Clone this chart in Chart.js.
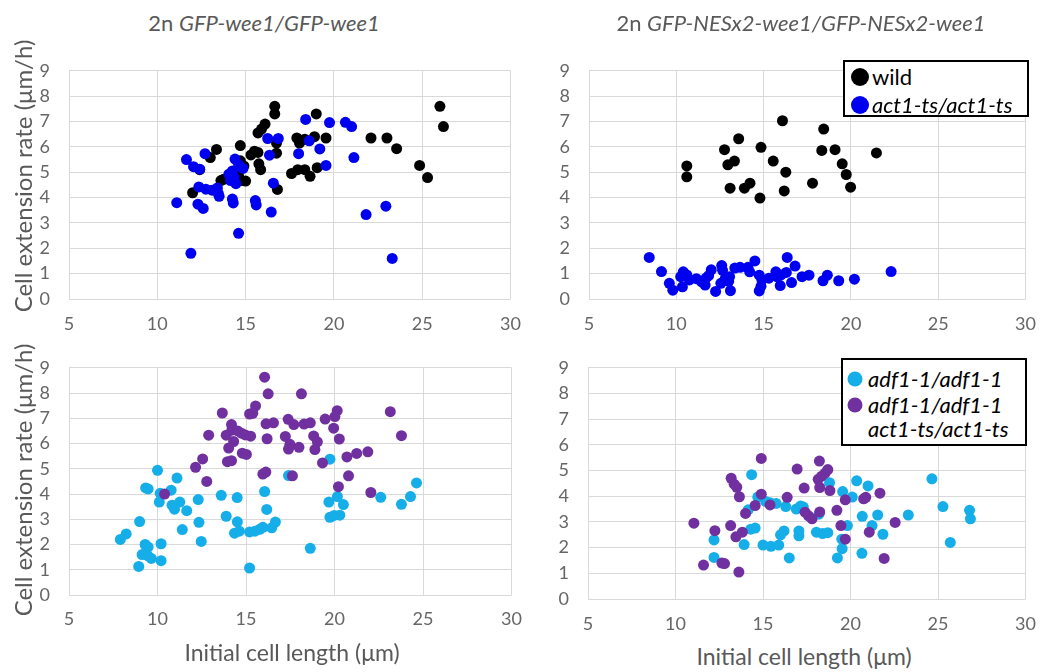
<!DOCTYPE html>
<html>
<head>
<meta charset="utf-8">
<script src="https://cdn.jsdelivr.net/npm/chart.js@4.4.0/dist/chart.umd.min.js"></script>
<style>
  body { margin: 0; background: #fff; }
  #wrap { position: relative; width: 1051px; height: 672px; overflow: hidden; font-family: Lato, sans-serif; color: #595959; }
  #wrap canvas { position: absolute; }
  .txt { position: absolute; white-space: nowrap; transform: translate(-50%, -50%); }
  .title { font-size: 22px; }
  .ytitle { font-size: 24px; transform: translate(-50%, -50%) rotate(-90deg); }
  .xtitle { font-size: 23px; }
  .legend { position: absolute; box-sizing: border-box; border: 2px solid #000; background: #fff; color: #000; font-size: 22px; }
  .row { position: absolute; left: 0; white-space: nowrap; transform: translateY(-50%); line-height: 1; }
  .dot { position: absolute; border-radius: 50%; transform: translate(-50%, -50%); }
</style>
</head>
<body>
<div id="wrap">
  <canvas id="tl" width="535" height="300" style="left:0px;top:41px"></canvas>
  <canvas id="tr" width="530" height="300" style="left:520px;top:41px"></canvas>
  <canvas id="bl" width="535" height="300" style="left:0px;top:338px"></canvas>
  <canvas id="br" width="531" height="300" style="left:519px;top:338px"></canvas>

  <div class="txt title" style="left:264px;top:22px">2n <i>GFP-wee1/GFP-wee1</i></div>
  <div class="txt title" style="left:801px;top:22px">2n <i>GFP-NESx2-wee1/GFP-NESx2-wee1</i></div>
  <div class="txt ytitle" style="left:22px;top:176px">Cell extension rate (μm/h)</div>
  <div class="txt ytitle" style="left:22px;top:480px">Cell extension rate (μm/h)</div>
  <div class="txt xtitle" style="left:292px;top:652px">Initial cell length (μm)</div>
  <div class="txt xtitle" style="left:804px;top:656px">Initial cell length (μm)</div>

  <div class="legend" style="left:843px;top:60px;width:186px;height:57px">
    <span class="dot" style="left:15px;top:15px;width:18px;height:18px;background:#000"></span>
    <span class="row" style="left:27px;top:15px">wild</span>
    <span class="dot" style="left:15px;top:43px;width:18px;height:18px;background:#0000f0"></span>
    <span class="row" style="left:27px;top:43px"><i>act1-ts/act1-ts</i></span>
  </div>
  <div class="legend" style="left:841px;top:358px;width:186px;height:88px">
    <span class="dot" style="left:12px;top:19px;width:15px;height:15px;background:#15aee8"></span>
    <span class="row" style="left:25px;top:19px"><i>adf1-1/adf1-1</i></span>
    <span class="dot" style="left:12px;top:45px;width:15px;height:15px;background:#7030a0"></span>
    <span class="row" style="left:25px;top:45px"><i>adf1-1/adf1-1</i></span>
    <span class="row" style="left:25px;top:69px"><i>act1-ts/act1-ts</i></span>
  </div>
</div>
<script>
const xTickValues = [5, 10, 15, 20, 25, 30];
const yTickValues = [0, 1, 2, 3, 4, 5, 6, 7, 8, 9];

// 2n GFP-wee1/GFP-wee1
const tlWild = [[26.0,7.6],[26.2,6.8],[16.65,7.6],[16.65,7.3],[19.0,7.3],[16.1,6.9],[15.9,6.7],[15.7,6.55],[14.7,6.05],[13.35,5.9],[13.0,5.58],[15.5,5.83],[15.3,5.68],[15.7,5.78],[15.75,5.33],[15.85,5.1],[14.7,5.45],[14.9,5.25],[14.75,4.67],[15.0,4.65],[14.6,4.86],[13.6,4.67],[13.75,4.72],[12.0,4.19],[12.4,5.1],[17.9,6.35],[18.05,6.15],[18.35,6.3],[18.9,6.4],[19.55,6.35],[16.75,6.15],[16.75,5.75],[17.6,4.95],[17.95,5.1],[18.35,5.1],[18.65,4.84],[19.05,5.18],[16.8,4.32],[22.1,6.35],[23.0,6.35],[23.55,5.93],[24.85,5.27],[25.3,4.79]];
const tlAct = [[11.1,3.8],[11.65,5.5],[11.9,1.8],[12.05,5.22],[12.4,5.12],[12.7,5.73],[12.35,4.42],[12.75,4.33],[13.1,4.29],[13.45,4.17],[13.4,4.38],[12.3,3.74],[12.6,3.57],[13.5,4.05],[14.4,5.52],[14.6,5.3],[14.85,5.15],[14.25,5.05],[14.05,4.92],[14.35,4.8],[14.15,4.67],[14.45,4.55],[14.25,3.94],[14.3,3.79],[15.55,3.88],[15.6,3.71],[16.45,3.43],[14.6,2.59],[16.25,6.33],[16.85,6.33],[16.35,5.67],[16.57,4.57],[18.0,5.73],[18.4,7.08],[19.75,6.96],[20.65,6.97],[21.0,6.8],[18.6,6.24],[19.2,5.92],[19.55,5.27],[21.13,5.58],[21.82,3.33],[22.94,3.66],[23.3,1.6]];

// 2n GFP-NESx2-wee1/GFP-NESx2-wee1
const trWild = [[10.6,5.25],[10.6,4.82],[12.76,5.89],[12.95,5.29],[13.33,5.44],[13.57,6.32],[13.08,4.37],[13.9,4.37],[14.22,4.57],[14.85,5.98],[14.79,3.98],[15.55,5.44],[16.08,7.03],[16.27,5.0],[16.18,4.26],[17.8,4.57],[18.33,5.86],[18.44,6.7],[19.09,5.89],[19.5,5.33],[19.73,4.91],[19.98,4.41],[21.46,5.76]];
const trAct = [[8.45,1.64],[9.15,1.08],[9.6,0.62],[9.8,0.35],[10.4,1.07],[10.25,0.88],[10.35,0.48],[10.6,0.95],[10.75,0.75],[11.15,0.8],[11.45,0.68],[11.65,0.55],[11.7,0.82],[11.85,0.92],[12.0,1.15],[12.25,0.3],[12.6,1.32],[12.65,1.13],[12.55,0.62],[12.8,0.8],[13.0,0.7],[13.05,0.88],[13.1,0.33],[13.35,1.22],[13.65,1.25],[14.1,1.25],[14.2,1.07],[14.5,1.5],[14.75,0.94],[14.9,0.75],[14.85,0.5],[14.75,0.32],[15.3,0.82],[15.7,1.07],[15.75,0.88],[15.95,0.53],[16.0,0.95],[16.35,1.64],[16.3,1.05],[16.6,0.65],[16.8,1.3],[17.2,0.88],[17.6,0.94],[18.4,0.72],[18.65,0.94],[19.3,0.72],[20.2,0.78],[22.3,1.08]];

// adf1-1 panels
const blAdf = [[7.9,2.2],[8.23,2.42],[8.99,2.91],[8.94,1.13],[9.3,2.0],[9.47,1.9],[9.13,1.6],[9.46,1.55],[9.65,1.45],[9.33,4.24],[9.47,4.2],[10.0,4.94],[10.2,2.03],[10.2,1.36],[10.1,3.68],[10.15,4.03],[10.77,4.15],[10.82,3.56],[10.96,3.4],[11.1,4.63],[11.26,3.68],[11.4,2.59],[11.65,3.34],[12.3,3.78],[12.34,2.88],[12.47,2.12],[13.6,3.95],[13.88,3.12],[14.5,3.86],[14.51,2.9],[14.35,2.45],[14.62,2.53],[15.2,2.5],[15.5,2.53],[15.77,2.6],[15.95,2.68],[16.45,2.66],[16.66,2.89],[15.2,1.07],[16.05,4.1],[16.17,3.39],[17.4,4.73],[18.63,1.85],[19.68,3.68],[19.74,5.38],[19.74,3.08],[19.98,3.15],[20.3,3.16],[20.16,3.9],[20.5,3.58],[22.61,3.87],[23.78,3.59],[24.29,3.9],[24.63,4.44]];
const blDouble = [[16.05,8.63],[16.25,7.97],[18.13,7.97],[13.66,7.21],[15.54,7.49],[15.2,7.17],[15.38,7.2],[14.18,6.75],[14.2,6.53],[14.53,6.5],[14.74,6.41],[14.96,6.34],[15.26,6.29],[13.88,6.33],[12.89,6.33],[14.3,6.08],[14.02,5.82],[13.95,5.28],[14.18,5.32],[14.79,5.62],[15.02,5.57],[12.55,5.39],[12.15,5.06],[12.78,4.5],[10.4,4.0],[16.13,6.78],[16.55,6.82],[16.19,6.19],[15.95,4.79],[16.12,4.87],[17.22,6.28],[17.38,6.96],[17.7,6.75],[17.48,5.97],[17.4,5.78],[17.99,5.85],[17.62,4.72],[18.28,6.77],[18.63,6.82],[18.82,6.3],[19.03,6.07],[18.89,5.76],[19.32,5.23],[19.47,6.97],[20.15,7.3],[20.02,7.07],[19.95,6.61],[20.27,6.18],[20.7,5.47],[21.25,5.61],[21.88,5.67],[20.22,4.29],[20.79,4.72],[22.05,4.06],[23.15,7.26],[23.78,6.31]];
const brAdf = [[12.2,2.3],[12.2,1.62],[13.92,2.12],[14.35,4.84],[14.15,3.47],[14.3,2.72],[14.55,2.76],[14.7,3.97],[15.15,3.8],[15.4,3.75],[15.75,3.72],[15.0,2.1],[15.45,2.05],[15.9,2.1],[16.0,2.5],[16.2,2.65],[16.5,1.6],[16.3,3.6],[16.9,3.5],[17.15,3.62],[17.3,3.58],[17.05,2.65],[17.05,2.46],[18.05,2.6],[18.4,2.55],[18.7,2.58],[18.2,3.3],[18.8,4.53],[19.55,4.18],[20.1,3.97],[20.35,4.6],[21.0,4.4],[19.82,2.86],[19.5,2.33],[19.52,1.96],[19.25,1.6],[20.67,3.22],[20.65,1.78],[21.55,3.27],[21.23,2.86],[21.85,2.52],[23.3,3.27],[24.65,4.68],[25.28,3.6],[26.8,3.45],[26.85,3.12],[25.7,2.2]];
const brDouble = [[11.05,2.95],[12.25,2.66],[11.6,1.32],[12.65,1.4],[12.8,1.38],[13.62,1.05],[13.15,2.86],[13.45,2.42],[13.82,2.6],[13.18,4.7],[13.35,4.47],[13.5,4.35],[13.65,3.98],[14.0,3.33],[14.55,3.64],[14.9,5.47],[14.9,4.08],[15.4,3.66],[16.38,3.96],[16.95,5.06],[17.35,4.32],[17.4,3.38],[17.6,3.24],[17.8,3.12],[18.22,5.37],[18.15,4.66],[18.35,4.78],[18.55,4.9],[18.7,5.04],[18.24,4.34],[18.24,3.39],[18.82,4.22],[19.22,3.45],[19.45,2.86],[19.7,2.33],[19.7,3.86],[20.75,3.9],[20.87,3.96],[21.07,2.6],[21.68,4.12],[22.55,2.98],[21.92,1.58]];

const tickFont = { family: "Lato", size: 18 };
const gridColor = "#d9d9d9";

// one scatter panel, later series drawn on top (like the Excel original)
const drawPanel = (id, series, box) => {
  const datasets = series.map((s, i) => ({
    label: s.label,
    data: s.points.map((p) => ({ x: p[0], y: p[1] })),
    backgroundColor: s.color,
    borderWidth: 0,
    pointRadius: 5.5,
    pointHoverRadius: 5.5,
    order: series.length - i,
  }));

  new Chart(document.getElementById(id), {
    type: "scatter",
    data: { datasets: datasets },
    options: {
      responsive: false,
      animation: false,
      events: [],
      layout: { padding: { left: 0, top: box.top, right: box.right, bottom: 0 } },
      plugins: { legend: { display: false }, tooltip: { enabled: false } },
      scales: {
        x: {
          type: "linear",
          min: 5,
          max: 30,
          afterBuildTicks: (scale) => {
            scale.ticks = xTickValues.map((v) => ({ value: v }));
          },
          afterFit: (scale) => {
            scale.height = box.xh;
          },
          grid: { color: gridColor, drawTicks: false },
          border: { display: false },
          ticks: { color: "#666666", font: tickFont, padding: box.xpad, maxRotation: 0 },
        },
        y: {
          type: "linear",
          min: 0,
          max: 9,
          afterBuildTicks: (scale) => {
            scale.ticks = yTickValues.map((v) => ({ value: v }));
          },
          afterFit: (scale) => {
            scale.width = 69;
          },
          grid: { color: gridColor, drawTicks: false },
          border: { display: false },
          ticks: { color: "#666666", font: tickFont, padding: 19 },
        },
      },
    },
  });
};

drawPanel("tl", [
  { label: "wild", points: tlWild, color: "#000000" },
  { label: "act1-ts/act1-ts", points: tlAct, color: "#0000f0" },
], { top: 20, right: 20, xh: 42, xpad: 14 });

drawPanel("tr", [
  { label: "wild", points: trWild, color: "#000000" },
  { label: "act1-ts/act1-ts", points: trAct, color: "#0000f0" },
], { top: 20, right: 21, xh: 42, xpad: 14 });

drawPanel("bl", [
  { label: "adf1-1/adf1-1", points: blAdf, color: "#15aee8" },
  { label: "adf1-1/adf1-1 act1-ts/act1-ts", points: blDouble, color: "#7030a0" },
], { top: 20, right: 20, xh: 43, xpad: 13 });

drawPanel("br", [
  { label: "adf1-1/adf1-1", points: brAdf, color: "#15aee8" },
  { label: "adf1-1/adf1-1 act1-ts/act1-ts", points: brDouble, color: "#7030a0" },
], { top: 20, right: 21, xh: 39, xpad: 14 });
</script>
</body>
</html>
